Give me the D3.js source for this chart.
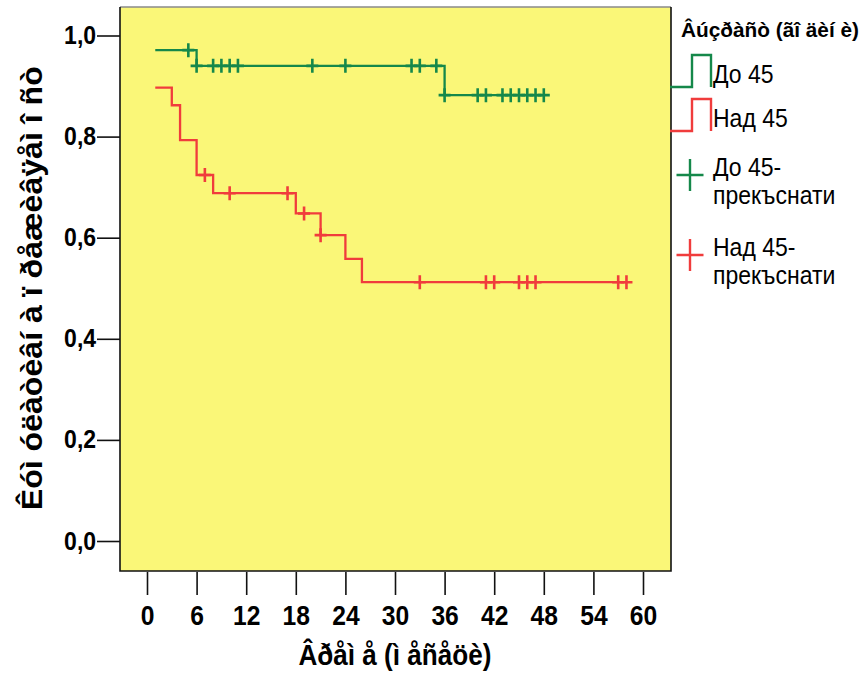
<!DOCTYPE html>
<html>
<head>
<meta charset="utf-8">
<script src="https://cdn.jsdelivr.net/npm/d3@7"></script>
<style>
  html, body { margin: 0; padding: 0; background: #ffffff; }
  svg { display: block; }
  text { font-family: "Liberation Sans", Arial, "DejaVu Sans", sans-serif; fill: #000; }
</style>
</head>
<body>
<svg id="chart" width="866" height="675"></svg>
<script>
// Kaplan–Meier cumulative survival by age group (months of follow-up)

const groupNames = ["До 45", "Над 45"];
const groupColors = ["#15884a", "#f03c3c"];

// "До 45": first time point, event times with survival after each, last follow-up
const under45Start = 1;
const under45StartSurv = 0.971;
const under45EventTimes = [6, 36];
const under45Surv = [0.940, 0.882];
const under45End = 48;
const under45Censored = [5, 6, 8, 9, 10, 11, 20, 24, 32, 33, 35, 36, 40, 41, 43, 44, 45, 46, 47, 48];

// "Над 45"
const over45Start = 1;
const over45StartSurv = 0.897;
const over45EventTimes = [3, 4, 6, 8, 18, 21, 24, 26];
const over45Surv = [0.862, 0.793, 0.724, 0.688, 0.648, 0.605, 0.558, 0.512];
const over45End = 58;
const over45Censored = [7, 10, 17, 19, 21, 33, 41, 42, 45, 46, 47, 57, 58];

const xTicks = [0, 6, 12, 18, 24, 30, 36, 42, 48, 54, 60];
const yTicks = [0, 0.2, 0.4, 0.6, 0.8, 1.0];

const xTitle = "Âðåì å (ì åñåöè)";
const yTitle = "Êóì óëàòèâí à ï ðåæèâÿåì î ñò";
const legendTitle = "Âúçðàñò (ãî äèí è)";
const legendStepLabels = ["До 45", "Над 45"];
const legendCensorLabels = [["До 45-", "прекъснати"], ["Над 45-", "прекъснати"]];

// ---------------------------------------------------------------
const svg = d3.select("#chart");
const box = { left: 120, top: 7, right: 671, bottom: 571 };

const x = d3.scaleLinear().domain([0, 60]).range([147, 643]);
const y = d3.scaleLinear().domain([0, 1]).range([541, 35.5]);

// plot background
svg.append("rect")
  .attr("x", box.left).attr("y", box.top)
  .attr("width", box.right - box.left).attr("height", box.bottom - box.top)
  .attr("fill", "#faf778");
svg.append("path")
  .attr("d", `M${box.left},${box.top}H${box.right}`)
  .attr("stroke", "#8a8a8a").attr("stroke-width", 1.5).attr("fill", "none");
svg.append("path")
  .attr("d", `M${box.right},${box.top}V${box.bottom}H${box.left}V${box.top}`)
  .attr("stroke", "#111").attr("stroke-width", 1.6).attr("fill", "none");

const fmt = v => d3.format(".1f")(v).replace(".", ",");

// y axis
const yAxis = svg.append("g")
  .attr("transform", `translate(${box.left},0)`)
  .call(d3.axisLeft(y).tickValues(yTicks).tickFormat(fmt).tickSizeInner(23).tickSizeOuter(0).tickPadding(3));
yAxis.select(".domain").remove();
yAxis.selectAll(".tick line").attr("stroke", "#111").attr("stroke-width", 1.6);
yAxis.selectAll(".tick text")
  .attr("font-size", 25).attr("font-weight", "bold")
  .attr("transform", "scale(0.92,1)")
  .style("font-family", '"Liberation Sans", Arial, sans-serif');

// x axis
const xAxis = svg.append("g")
  .attr("transform", `translate(0,${box.bottom + 1})`)
  .call(d3.axisBottom(x).tickValues(xTicks).tickFormat(d3.format("d")).tickSizeInner(23).tickSizeOuter(0).tickPadding(10));
xAxis.select(".domain").remove();
xAxis.selectAll(".tick line").attr("stroke", "#111").attr("stroke-width", 1.6);
xAxis.selectAll(".tick text")
  .attr("font-size", 28).attr("font-weight", "bold")
  .attr("transform", "scale(0.88,1)")
  .style("font-family", '"Liberation Sans", Arial, sans-serif');

// axis titles
svg.append("text")
  .attr("x", (x(0) + x(60)) / 2).attr("y", 665)
  .attr("text-anchor", "middle")
  .attr("font-size", 30).attr("font-weight", "bold")
  .attr("textLength", 193).attr("lengthAdjust", "spacingAndGlyphs")
  .text(xTitle);

svg.append("text")
  .attr("transform", `translate(42,${(y(0) + y(1)) / 2}) rotate(-90)`)
  .attr("text-anchor", "middle")
  .attr("font-size", 30).attr("font-weight", "bold")
  .attr("textLength", 444).attr("lengthAdjust", "spacingAndGlyphs")
  .text(yTitle);

// survival curves
const groups = [
  { start: under45Start, s0: under45StartSurv, times: under45EventTimes, surv: under45Surv, end: under45End, cens: under45Censored },
  { start: over45Start, s0: over45StartSurv, times: over45EventTimes, surv: over45Surv, end: over45End, cens: over45Censored }
];

const stepLine = d3.line().x(d => x(d[0])).y(d => y(d[1])).curve(d3.curveStepAfter);

function survivalAt(g, t) {
  let s = g.s0;
  g.times.forEach((et, i) => { if (et <= t) s = g.surv[i]; });
  return s;
}

groups.forEach((g, gi) => {
  const pts = [[g.start, g.s0]];
  g.times.forEach((t, i) => pts.push([t, g.surv[i]]));
  pts.push([g.end, g.surv[g.surv.length - 1]]);

  svg.append("path")
    .attr("d", stepLine(pts))
    .attr("fill", "none")
    .attr("stroke", groupColors[gi])
    .attr("stroke-width", 2.3);

  const marks = svg.append("g")
    .attr("stroke", groupColors[gi])
    .attr("stroke-width", 2.6)
    .attr("fill", "none");
  marks.selectAll("path")
    .data(g.cens)
    .join("path")
    .attr("d", t => {
      const cx = x(t), cy = y(survivalAt(g, t));
      return `M${cx},${cy - 7}V${cy + 7}M${cx - 6},${cy}H${cx + 6}`;
    });
});

// legend
const legend = svg.append("g");
legend.append("text")
  .attr("x", 681).attr("y", 37)
  .attr("font-size", 20.5).attr("font-weight", "bold")
  .attr("textLength", 178).attr("lengthAdjust", "spacingAndGlyphs")
  .text(legendTitle);

const stepBottoms = [87, 131];
legendStepLabels.forEach((lab, i) => {
  const b = stepBottoms[i];
  legend.append("path")
    .attr("d", `M670,${b}H692V${b - 32}H711V${b}`)
    .attr("fill", "none").attr("stroke", groupColors[i]).attr("stroke-width", 2.4);
  legend.append("text")
    .attr("transform", `translate(713,${b - 4}) scale(0.92,1)`)
    .attr("font-size", 25)
    .text(lab);
});

const plusCenters = [175, 255];
legendCensorLabels.forEach((lines, i) => {
  const cy = plusCenters[i];
  legend.append("path")
    .attr("d", `M690,${cy - 16}V${cy + 16}M676.5,${cy}H703.5`)
    .attr("fill", "none").attr("stroke", groupColors[i]).attr("stroke-width", 2.4);
  lines.forEach((ln, k) => {
    legend.append("text")
      .attr("transform", `translate(713,${cy + 1 + k * 28}) scale(0.92,1)`)
      .attr("font-size", 25)
      .text(ln);
  });
});
</script>
</body>
</html>
